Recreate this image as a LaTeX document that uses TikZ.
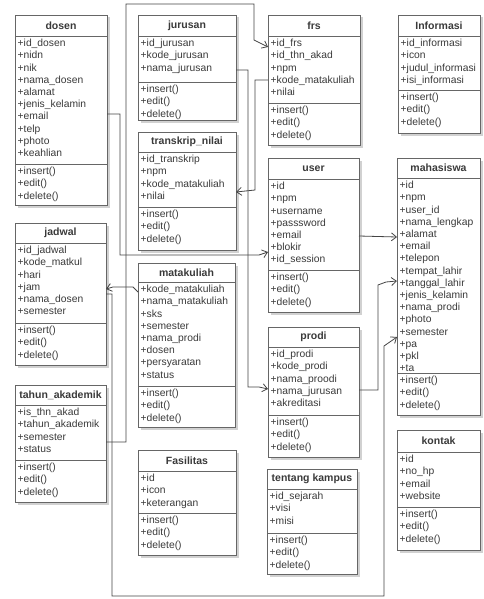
\documentclass[tikz,border=0pt]{standalone}
\usepackage{fontspec}
\setmainfont{Liberation Sans}
\usetikzlibrary{arrows.meta,calc,shadows}
\definecolor{boxline}{HTML}{666666}
\definecolor{txt}{HTML}{3A3A3A}
\definecolor{connline}{HTML}{444444}
\tikzset{
  classbox/.style={draw=boxline, line width=0.9pt, fill=white, inner sep=0pt, outer sep=0pt,
    drop shadow={shadow xshift=2.5pt, shadow yshift=-2.5pt, opacity=0.18, fill=black}},
  divider/.style={draw=boxline, line width=0.9pt},
  titletext/.style={font=\fontsize{10.5}{12}\selectfont\bfseries, text=txt, inner sep=0pt},
  attrtext/.style={font=\fontsize{10.3}{12.2}\selectfont, text=txt, align=left, inner xsep=2.5pt, inner ysep=3pt},
  conn/.style={draw=connline, line width=0.8pt},
  arr/.style={conn, -{Straight Barb[length=5pt,width=8pt]}}
}
% #1 name, #2 left, #3 top, #4 right, #5 title divider, #6 attr divider, #7 bottom, #8 title, #9 attributes
\newcommand\umlclass[9]{%
  \node[classbox, minimum width={(#4-#2)*1pt}, minimum height={(#7-#3)*1pt}, anchor=north west] (#1) at (#2,#3) {};
  \draw[divider] (#2,#5) -- (#4,#5);
  \draw[divider] (#2,#6) -- (#4,#6);
  \node[titletext] (#1-title) at ({(#2+#4)/2},{(#3+#5)/2}) {#8};
  \node[attrtext, anchor=north west] (#1-attrs) at (#2,#5) {#9};
  \node[attrtext, anchor=north west] (#1-ops) at (#2,#6) {+insert()\\+edit()\\+delete()};
}
\begin{document}
\begin{tikzpicture}[x=1pt,y=-1pt]
\fill[white] (0,0) rectangle (483,599);
\useasboundingbox (0,0) rectangle (483,599);

\umlclass{dosen}{15}{15}{107}{36}{164}{205}{dosen}{+id\_dosen\\+nidn\\+nik\\+nama\_dosen\\+alamat\\+jenis\_kelamin\\+email\\+telp\\+photo\\+keahlian}
\umlclass{jurusan}{138}{15}{236}{36}{82}{120}{jurusan}{+id\_jurusan\\+kode\_jurusan\\+nama\_jurusan}
\umlclass{transkrip}{138}{132}{236}{152}{207}{250}{transkrip\_nilai}{+id\_transkrip\\+npm\\+kode\_matakuliah\\+nilai}
\umlclass{frs}{268}{15}{360}{36}{103}{145}{frs}{+id\_frs\\+id\_thn\_akad\\+npm\\+kode\_matakuliah\\+nilai}
\umlclass{informasi}{398}{15}{480}{36}{90}{133}{Informasi}{+id\_informasi\\+icon\\+judul\_informasi\\+isi\_informasi}
\umlclass{user}{268}{158}{359}{179}{270}{312}{user}{+id\\+npm\\+username\\+passsword\\+email\\+blokir\\+id\_session}
\umlclass{prodi}{268}{327}{359}{347}{415}{457}{prodi}{+id\_prodi\\+kode\_prodi\\+nama\_proodi\\+nama\_jurusan\\+akreditasi}
\umlclass{tentang}{267}{469}{357}{489}{533}{574}{tentang kampus}{+id\_sejarah\\+visi\\+misi}
\umlclass{mahasiswa}{397}{158}{480}{178}{373}{415}{mahasiswa}{+id\\+npm\\+user\_id\\+nama\_lengkap\\+alamat\\+email\\+telepon\\+tempat\_lahir\\+tanggal\_lahir\\+jenis\_kelamin\\+nama\_prodi\\+photo\\+semester\\+pa\\+pkl\\+ta}
\umlclass{kontak}{397}{430}{480}{452}{507}{550}{kontak}{+id\\+no\_hp\\+email\\+website}
\umlclass{jadwal}{15}{223}{106}{243}{323}{365}{jadwal}{+id\_jadwal\\+kode\_matkul\\+hari\\+jam\\+nama\_dosen\\+semester}
\umlclass{tahun}{15}{385}{106}{405}{460}{502}{tahun\_akademik}{+is\_thn\_akad\\+tahun\_akademik\\+semester\\+status}
\umlclass{matakuliah}{138}{263}{235}{282}{386}{427}{matakuliah}{+kode\_matakuliah\\+nama\_matakuliah\\+sks\\+semester\\+nama\_prodi\\+dosen\\+persyaratan\\+status}
\umlclass{fasilitas}{138}{450}{236}{471}{513}{555}{Fasilitas}{+id\\+icon\\+keterangan}

% connectors
\coordinate (loopA) at (126,4);
\coordinate (loopB) at (254,4);
\draw[arr] ($(tahun.north east)+(0,57)$) -- (126,442) -- (loopA) -- (loopB) -- (254,40) -- ($(frs.north west)+(0,32)$);
\draw[arr] ($(dosen.north east)+(0,99)$) -- (120,114) -- (120,255) -- (259,255) -- ($(user.north west)+(0,94)$);
\draw[arr] ($(frs.north west)+(0,65)$) -- (255,80) -- (255,190) -- ($(transkrip.north east)+(0,60)$);
\draw[arr] ($(jurusan.north east)+(0,55)$) -- (248,70) -- (248,387) -- (259,387) -- ($(prodi.north west)+(0,62)$);
\draw[arr] ($(matakuliah.north west)+(0,29)$) -- (133,287) -- (113,287) -- ($(jadwal.north east)+(0,66)$);
\draw[arr] ($(jadwal.north east)+(0,71)$) -- (112,294) -- (112,596) -- (384,596) -- (384,346) -- ($(mahasiswa.north west)+(0,179)$);
\draw[arr] ($(user.north east)+(0,78)$) -- ($(mahasiswa.north west)+(0,79)$);
\draw[arr] ($(prodi.north east)+(0,63)$) -- (378,390) -- (378,285) -- (386,282) -- ($(mahasiswa.north west)+(0,123)$);
\end{tikzpicture}
\end{document}
